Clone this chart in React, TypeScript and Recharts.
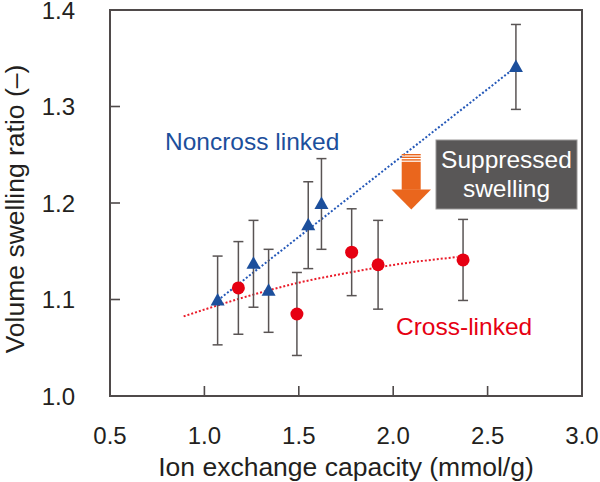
import React from "react";
import {
  ComposedChart,
  Scatter,
  Line,
  XAxis,
  YAxis,
  ErrorBar,
} from "recharts";

// noncross-linked membranes (triangles)
const noncrossIec = [1.07, 1.26, 1.34, 1.55, 1.62, 2.65];
const noncrossRatio = [1.099, 1.137, 1.109, 1.177, 1.199, 1.341];
const noncrossErr = [0.046, 0.045, 0.043, 0.045, 0.047, 0.044];

// cross-linked membranes (circles)
const crossIec = [1.18, 1.49, 1.78, 1.92, 2.37];
const crossRatio = [1.112, 1.085, 1.149, 1.136, 1.141];
const crossErr = [0.048, 0.043, 0.045, 0.046, 0.042];

// dotted trend lines
const noncrossFitX = [1.07, 2.65];
const noncrossFitY = [1.099, 1.341];
const crossFitX = [0.89, 1.24, 1.49, 1.77, 2.04, 2.34];
const crossFitY = [1.0825, 1.104, 1.117, 1.128, 1.137, 1.144];

const xTicks = [0.5, 1.0, 1.5, 2.0, 2.5, 3.0];
const yTicks = [1.0, 1.1, 1.2, 1.3, 1.4];
const xDomain = [0.5, 3.0];
const yDomain = [1.0, 1.4];

const BLUE = "#1c4f9c";
const RED = "#e60012";
const FRAME = "#4f4a4a";
const TEXT = "#231f20";
const FONT = "'Liberation Sans', Arial, Helvetica, sans-serif";

// plot box inside the 600x482 chart
const W = 600;
const H = 482;
const box = { left: 110, top: 10, right: 582, bottom: 396 };

const zip = (xs: number[], ys: number[], es?: number[]) =>
  xs.map((x, i) => (es ? { x, y: ys[i], err: es[i] } : { x, y: ys[i] }));

const noncrossData = zip(noncrossIec, noncrossRatio, noncrossErr);
const crossData = zip(crossIec, crossRatio, crossErr);
const noncrossFit = zip(noncrossFitX, noncrossFitY);
const crossFit = zip(crossFitX, crossFitY);

// frame tick positions (inner ticks only)
const px = (v: number) =>
  box.left + ((v - xDomain[0]) / (xDomain[1] - xDomain[0])) * (box.right - box.left);
const py = (v: number) =>
  box.bottom - ((v - yDomain[0]) / (yDomain[1] - yDomain[0])) * (box.bottom - box.top);

const XTick = (props: any) => {
  const { x, y, payload } = props;
  return (
    <text x={x} y={y + 48} textAnchor="middle" fontSize={24} fill={TEXT} fontFamily={FONT}>
      {payload.value.toFixed(1)}
    </text>
  );
};

const YTick = (props: any) => {
  const { x, y, payload } = props;
  return (
    <text x={x - 35} y={y + 8.5} textAnchor="end" fontSize={24} fill={TEXT} fontFamily={FONT}>
      {payload.value.toFixed(1)}
    </text>
  );
};

const Triangle = (props: any) => {
  const { cx, cy } = props;
  if (cx == null || cy == null) return null;
  return (
    <polygon
      points={`${cx},${cy - 7.5} ${cx - 7},${cy + 5} ${cx + 7},${cy + 5}`}
      fill={BLUE}
    />
  );
};

const RedDot = (props: any) => {
  const { cx, cy } = props;
  if (cx == null || cy == null) return null;
  return <circle cx={cx} cy={cy} r={6.5} fill={RED} />;
};

export default function App() {
  const bw = box.right - box.left;
  const bh = box.bottom - box.top;
  return (
    <div style={{ position: "absolute", left: 0, top: 0, width: W, height: H, background: "#fff" }}>
      <ComposedChart
        width={W}
        height={H}
        margin={{ top: box.top, right: W - box.right, bottom: 0, left: 0 }}
      >
        <XAxis
          type="number"
          dataKey="x"
          domain={xDomain}
          ticks={xTicks}
          allowDataOverflow
          height={H - box.bottom}
          axisLine={false}
          tickLine={false}
          tickSize={0}
          tickMargin={0}
          tick={<XTick />}
          interval={0}
        />
        <YAxis
          type="number"
          domain={yDomain}
          ticks={yTicks}
          allowDataOverflow
          width={box.left}
          axisLine={false}
          tickLine={false}
          tickSize={0}
          tickMargin={0}
          tick={<YTick />}
          interval={0}
        />
        <Line
          data={noncrossFit}
          dataKey="y"
          type="linear"
          stroke="#2458b8"
          strokeWidth={2}
          strokeDasharray="2 2"
          dot={false}
          activeDot={false}
          isAnimationActive={false}
        />
        <Line
          data={crossFit}
          dataKey="y"
          type="monotone"
          stroke="#ea1c2a"
          strokeWidth={2}
          strokeDasharray="2 2"
          dot={false}
          activeDot={false}
          isAnimationActive={false}
        />
        <Scatter data={noncrossData} dataKey="y" shape={<Triangle />} isAnimationActive={false}>
          <ErrorBar dataKey="err" direction="y" width={5} stroke="#595454" strokeWidth={1.5} />
        </Scatter>
        <Scatter data={crossData} dataKey="y" shape={<RedDot />} isAnimationActive={false}>
          <ErrorBar dataKey="err" direction="y" width={5} stroke="#595454" strokeWidth={1.5} />
        </Scatter>
      </ComposedChart>

      <svg
        width={W}
        height={H}
        style={{ position: "absolute", left: 0, top: 0, pointerEvents: "none", zIndex: 5 }}
        fontFamily={FONT}
      >
        {/* frame drawn as thin filled bars, with inward ticks */}
        <g fill={FRAME}>
          <rect x={box.left - 1} y={box.top - 1} width={bw + 2} height={2} />
          <rect x={box.left - 1} y={box.bottom - 1} width={bw + 2} height={2} />
          <rect x={box.left - 1} y={box.top - 1} width={2} height={bh + 2} />
          <rect x={box.right - 1} y={box.top - 1} width={2} height={bh + 2} />
          {xTicks.slice(1, -1).map((v) => (
            <rect key={`xt${v}`} x={px(v) - 0.8} y={box.bottom - 10} width={1.6} height={10} />
          ))}
          {yTicks.slice(1, -1).map((v) => (
            <rect key={`yt${v}`} x={box.left} y={py(v) - 0.8} width={10} height={1.6} />
          ))}
        </g>

        <text x={346} y={476} textAnchor="middle" fontSize={26.5} fill={TEXT}>
          Ion exchange capacity (mmol/g)
        </text>
        <text
          x={0}
          y={0}
          transform="translate(23.5,209) rotate(-90)"
          textAnchor="middle"
          fontSize={26.5}
          fill={TEXT}
        >
          Volume swelling ratio (–)
        </text>

        <text x={165} y={150} fontSize={24.5} fill={BLUE}>
          Noncross linked
        </text>
        <text x={396} y={335} fontSize={24.5} fill={RED}>
          Cross-linked
        </text>

        <rect x={436} y={140} width={141} height={69} fill="#595757" stroke="#9a9898" strokeWidth={1} />
        <text x={506.5} y={168} textAnchor="middle" fontSize={24.5} fill="#ffffff">
          Suppressed
        </text>
        <text x={506.5} y={197} textAnchor="middle" fontSize={24.5} fill="#ffffff">
          swelling
        </text>

        <g fill="#ea661d">
          <rect x={401.7} y={154} width={19} height={1.4} />
          <rect x={401.7} y={156.6} width={19} height={1.4} />
          <rect x={401.7} y={159.2} width={19} height={1.4} />
          <rect x={401.7} y={161.8} width={19} height={28} />
          <polygon points="391.5,189.5 431,189.5 411.3,209.5" />
        </g>
      </svg>
    </div>
  );
}
